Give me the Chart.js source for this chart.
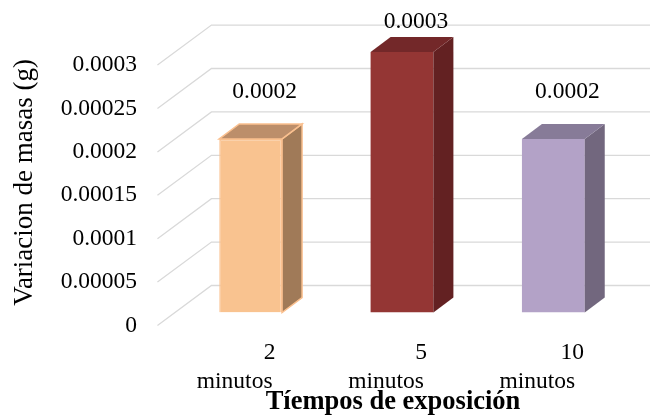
<!DOCTYPE html>
<html>
<head>
<meta charset="utf-8">
<script src="https://cdn.jsdelivr.net/npm/chart.js@4"></script>
<style>
html,body{margin:0;padding:0;background:#fff;}
#chart{display:block;}
</style>
</head>
<body>
<canvas id="chart" width="659" height="419"></canvas>
<script>
// data
const categories = ["2 minutos", "5 minutos", "10 minutos"];
const masas = [0.0002, 0.0003, 0.0002];
const valueLabels = ["0.0002", "0.0003", "0.0002"];
const yTicks = [0, 0.00005, 0.0001, 0.00015, 0.0002, 0.00025, 0.0003];

const frontColors = ["#F9C390", "#943634", "#B3A2C7"];
const sideColors  = ["#A07A58", "#632122", "#72677E"];
const topColors   = ["#BC8E6A", "#732829", "#877B98"];
const edgeColors  = ["#FAC08F", null, null];

const serif = "'Liberation Serif', 'Times New Roman', serif";

// wall depth (front edge -> back wall) and bar depth
const wallDx = 54, wallDy = -40;
const frontFrac = 0.325;
const barDx = 20, barDy = -15;

const threeD = {
  id: "threeD",
  beforeDatasetsDraw(chart){
    const c = chart.ctx;
    const y = chart.scales.y;
    const area = chart.chartArea;
    const fx = area.left - wallDx*frontFrac;
    c.save();
    c.strokeStyle = "#D9D9D9";
    c.lineWidth = 1.3;
    yTicks.forEach(v=>{
      const py = y.getPixelForValue(v);
      const fy = py - wallDy*frontFrac;
      const bx = fx + wallDx, by = fy + wallDy;
      c.beginPath();
      c.moveTo(fx, fy);
      c.lineTo(bx, by);
      c.lineTo(area.right + 21, by);
      c.stroke();
    });
    c.restore();
  },
  afterDatasetsDraw(chart){
    const c = chart.ctx;
    const meta = chart.getDatasetMeta(0);
    c.save();
    meta.data.forEach((bar,i)=>{
      const l = bar.x - bar.width/2, r = bar.x + bar.width/2;
      const t = bar.y, b = bar.base;
      // side
      c.beginPath();
      c.moveTo(r, t); c.lineTo(r+barDx, t+barDy); c.lineTo(r+barDx, b+barDy); c.lineTo(r, b);
      c.closePath();
      c.fillStyle = sideColors[i]; c.fill();
      if(edgeColors[i]){ c.strokeStyle = edgeColors[i]; c.lineWidth = 1.5; c.stroke(); }
      // top
      c.beginPath();
      c.moveTo(l, t); c.lineTo(l+barDx, t+barDy); c.lineTo(r+barDx, t+barDy); c.lineTo(r, t);
      c.closePath();
      c.fillStyle = topColors[i]; c.fill();
      if(edgeColors[i]){ c.strokeStyle = edgeColors[i]; c.lineWidth = 1.5; c.stroke(); }

      // value label
      c.fillStyle = "#000";
      c.font = "23.5px " + serif;
      c.textAlign = "center";
      c.textBaseline = "middle";
      c.fillText(valueLabels[i], bar.x + 14, Math.max(t - 47, 22));

      // category label, two lines
      const parts = categories[i].split(" ");
      c.fillText(parts[0], bar.x + 19, 353);
      c.fillText(parts[1], bar.x - 16, 382);
    });
    // x title
    c.font = "bold 26.5px " + serif;
    c.textAlign = "center";
    c.textBaseline = "middle";
    c.fillText("Tíempos de exposición", 393, 402);
    c.restore();
  }
};

new Chart(document.getElementById("chart"), {
  type: "bar",
  data: {
    labels: categories,
    datasets: [{
      label: "Variacion de masas",
      data: masas,
      backgroundColor: frontColors,
      borderColor: frontColors.map((col,i)=>edgeColors[i] || col),
      borderWidth: [1.5, 0, 0],
      barPercentage: 0.415,
      categoryPercentage: 1
    }]
  },
  options: {
    responsive: false,
    animation: false,
    devicePixelRatio: 1,
    layout: { padding: { left: 0, right: 30, top: 50, bottom: 106.5 } },
    plugins: { legend: { display: false }, tooltip: { enabled: false } },
    scales: {
      x: { display: false },
      y: {
        min: 0,
        max: 0.0003,
        afterFit(s){ s.width = 175; },
        afterBuildTicks(s){ s.ticks = yTicks.map(v=>({ value: v })); },
        grid: { display: false, drawTicks: false },
        border: { display: false },
        ticks: {
          padding: 38,
          labelOffset: 13,
          color: "#000",
          font: { family: serif, size: 23.5 },
          callback: v => String(Number(v.toFixed(6)))
        },
        title: {
          display: true,
          text: "Variacion de masas (g)",
          color: "#000",
          font: { family: serif, size: 27 },
          padding: { top: 9, bottom: 0 }
        }
      }
    }
  },
  plugins: [threeD]
});
</script>
</body>
</html>
